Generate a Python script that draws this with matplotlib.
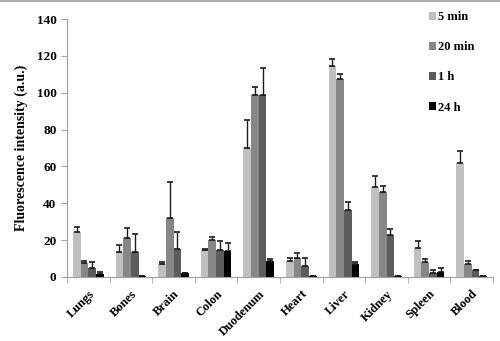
import numpy as np
import matplotlib
matplotlib.use('Agg')
import matplotlib.pyplot as plt

plt.rcParams['font.family'] = ['Liberation Serif', 'DejaVu Serif']
plt.rcParams['font.weight'] = 'bold'

organs = ['Lungs', 'Bones', 'Brain', 'Colon', 'Duodenum', 'Heart',
          'Liver', 'Kidney', 'Spleen', 'Blood']
series = ['5 min', '20 min', '1 h', '24 h']

min5 = [24.6, 13.7, 6.9, 14.6, 70.2, 8.7, 114.5, 48.7, 15.7, 62.0]
min5_err = [2.4, 3.7, 1.4, 0.7, 15.0, 1.4, 4.1, 6.3, 3.8, 6.5]
min20 = [7.4, 21.0, 32.2, 20.1, 98.8, 10.5, 107.3, 46.3, 8.3, 7.2]
min20_err = [1.4, 5.8, 19.5, 1.6, 4.1, 2.4, 2.8, 3.1, 1.6, 1.6]
h1 = [5.0, 13.7, 15.2, 14.6, 98.8, 6.1, 36.4, 22.6, 2.3, 3.6]
h1_err = [3.3, 9.5, 9.0, 4.9, 14.4, 4.0, 4.3, 3.3, 1.5, 0.4]
h24 = [1.8, 0.5, 2.0, 14.3, 8.7, 0.4, 6.9, 0.4, 2.5, 0.4]
h24_err = [0.7, 0.0, 0.0, 4.0, 1.1, 0.0, 1.1, 0.0, 2.2, 0.0]

values = [min5, min20, h1, h24]
errors = [min5_err, min20_err, h1_err, h24_err]
colors = ['#c0c0c0', '#878787', '#5c5c5c', '#000000']

fig = plt.figure(figsize=(5, 3.41), dpi=100)
ax = fig.add_axes([0.134, 0.188, 0.852, 0.756])

x = np.arange(len(organs))
w = 0.18
for i, (vals, errs, c) in enumerate(zip(values, errors, colors)):
    pos = x + (i - 1.5) * w
    ax.bar(pos, vals, w, color=c, label=series[i], zorder=2)
    ax.errorbar(pos, vals, yerr=[np.zeros(len(errs)), errs], fmt='none',
                ecolor='#1a1a1a', elinewidth=1, capsize=2.5, capthick=1.2,
                zorder=3)

ax.set_xlim(-0.5, len(organs) - 0.5)
ax.set_ylim(0, 140)
ax.set_yticks(np.arange(0, 141, 20))
ax.set_xticks(x)
ax.set_xticklabels(organs, rotation=45, ha='right', rotation_mode='anchor',
                   fontsize=9, fontweight='bold')
ax.set_xticks(np.arange(-0.5, len(organs)), minor=True)
ax.tick_params(axis='x', which='major', length=0, pad=8)
ax.tick_params(axis='x', which='minor', length=4, color='#a0a0a0')
ax.tick_params(axis='y', length=4, color='#a0a0a0', labelsize=9.5)
for t in ax.get_yticklabels():
    t.set_fontweight('bold')

ax.set_ylabel('Fluorescence intensity (a.u.)', fontsize=10,
              fontweight='bold', labelpad=6)

for s in ['top', 'right']:
    ax.spines[s].set_visible(False)
for s in ['left', 'bottom']:
    ax.spines[s].set_color('#a0a0a0')

fig.legend(loc='upper left', bbox_to_anchor=(0.835, 1.0), frameon=False,
           prop={'family': 'Liberation Serif', 'weight': 'bold', 'size': 9},
           handlelength=0.55, handleheight=0.55, handletextpad=0.2,
           labelspacing=1.45)

# thin gray border along the top of the image
fig.add_artist(plt.Line2D([0, 1], [0.997, 0.997], color='#a0a0a0', lw=1.2))

fig.savefig('out.png', dpi=100)
